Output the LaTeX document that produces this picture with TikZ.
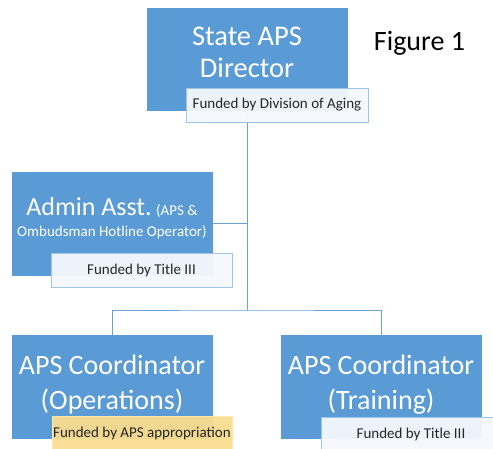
\documentclass[tikz,border=0pt]{standalone}
\usepackage{fontspec}
\setmainfont{Carlito}
\definecolor{boxblue}{HTML}{5B9BD5}
\definecolor{linkblue}{HTML}{6E9FD2}
\definecolor{fundfill}{HTML}{F4F8FC}
\definecolor{fundedge}{HTML}{9DC3E6}
\definecolor{apsfill}{HTML}{F9DC8F}
\definecolor{apsedge}{HTML}{FCE6AA}
\begin{document}
\begin{tikzpicture}[x=1pt,y=-1pt,
  role/.style={rectangle, fill=boxblue, draw=boxblue, line width=0.6pt,
    minimum width=200pt, minimum height=103pt, inner sep=0pt},
  rolename/.style={text=white, align=center, inner sep=0pt},
  fund/.style={rectangle, fill=fundfill, fill opacity=0.95, text opacity=1,
    draw=fundedge, line width=0.8pt, minimum width=181pt, minimum height=34pt,
    inner sep=0pt, font=\fontsize{15}{18}\selectfont, text=black!85},
  link/.style={draw=linkblue, line width=0.8pt}]
\useasboundingbox (0,0) rectangle (493,448);

% positions
\node[role, minimum height=102pt] (dir) at (247,59) {};
\node[role] (admin) at (112,223.5) {};
\node[role] (ops) at (112,386.5) {};
\node[role] (trn) at (381,386.5) {};

% role titles
\node[rolename, font=\fontsize{28.5}{32}\selectfont] (dirt) at (247,52.5) {State APS\\Director};
\node[rolename, font=\fontsize{15}{21}\selectfont] (admint) at (112,218.5)
  {{\fontsize{26}{28}\selectfont Admin Asst.} (APS \&\\Ombudsman Hotline Operator)};
\node[rolename, font=\fontsize{28}{35}\selectfont] (opst) at (112,384.5) {APS Coordinator\\(Operations)};
\node[rolename, font=\fontsize{28}{35}\selectfont] (trnt) at (381,384.5) {APS Coordinator\\(Training)};

% reporting lines
\coordinate (trunk) at (247,310);
\draw[link] (dir.south) -- (trunk);
\draw[link] (admin.east) -- (admin.east -| dir.south);
\draw[link] (ops.north) |- (trunk) -| (trn.north);

% funding sources
\node[fund, minimum width=182pt] (dirf) at (277,105) {Funded by Division of Aging};
\node[fund] (adminf) at (141.5,270) {Funded by Title III};
\node[fund, fill=apsfill, draw=apsedge, minimum width=180pt] (opsf) at (142,433) {Funded by APS appropriation};
\node[fund, minimum width=180pt] (trnf) at (411,434) {Funded by Title III};

% caption
\node[anchor=base, font=\fontsize{28}{32}\selectfont, inner sep=0pt] (fig) at (419.5,50) {Figure 1};
\end{tikzpicture}
\end{document}
